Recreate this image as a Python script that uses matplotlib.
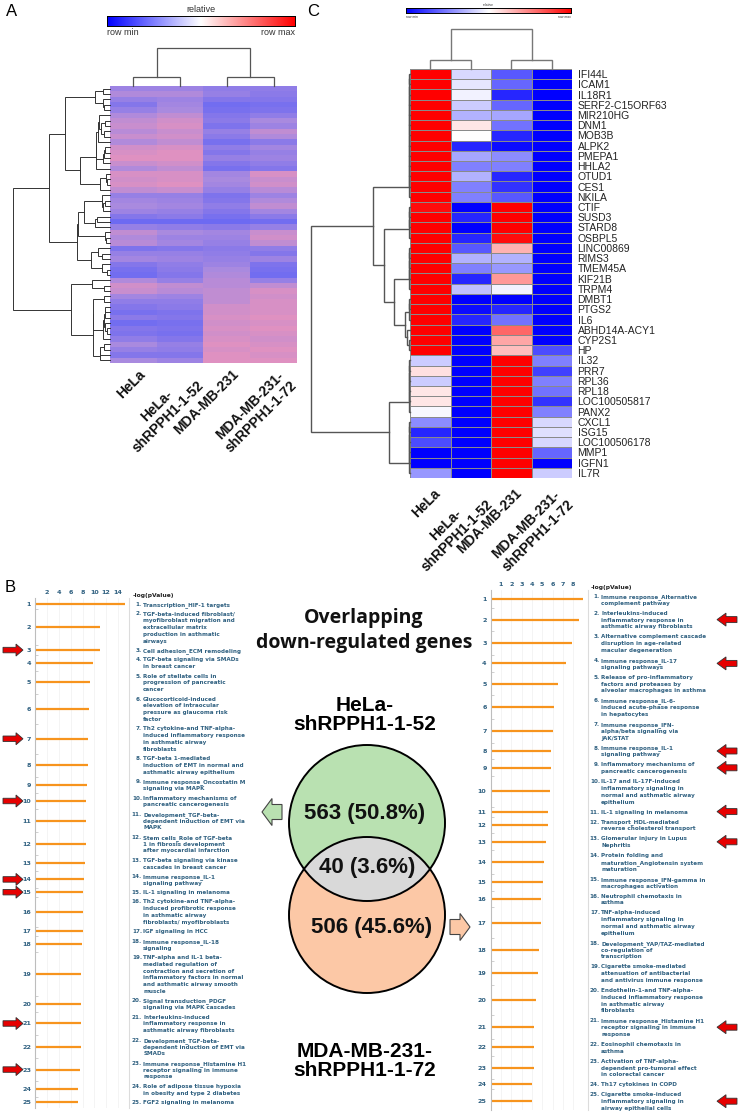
import numpy as np
import matplotlib.pyplot as plt
from matplotlib import transforms
from matplotlib.colors import LinearSegmentedColormap
from matplotlib.patches import Circle, FancyArrow

plt.rcParams['font.family'] = ['Liberation Sans', 'DejaVu Sans']

W, H = 740, 1113

# ---------------- panel A: relative expression, row-normalised ----------------
samples = ['HeLa', 'HeLa-\nshRPPH1-1-52', 'MDA-MB-231', 'MDA-MB-231-\nshRPPH1-1-72']
a_hela = [-0.2, 0.1, -0.3, -0.6, -0.3, 0.1, 0.3, 0.4, 0.2, 0.4, 0.1, 0.5, 0.6, 0.7, 0.4, 0.1, 0.6, 0.5,
          0.6, 0.3, -0.3, -0.1, 0.0, -0.2, -0.6, -1.0, -0.3, 0.3, 0.1, 0.2, -0.7, -0.3, -0.1, -0.6, -0.8,
          -0.9, 0.1, 0.5, 0.4, -0.1, -0.4, -0.6, -0.8, -0.5, -0.9, -0.6, -0.7, -0.4, 0.0, -0.3, -0.6, 0.0]
a_hela_sh = [-0.2, 0.1, -0.2, -0.1, 0.0, 0.3, 0.5, 0.6, 0.4, 0.5, 0.3, 0.6, 0.7, 0.7, 0.5, 0.3, 0.6, 0.6,
             0.7, 0.4, -0.3, -0.2, -0.1, -0.3, -0.5, -1.0, -0.4, 0.0, -0.2, -0.1, -0.6, -0.3, -0.2, -0.4,
             -0.5, -0.6, -0.3, 0.3, 0.2, -0.2, -0.4, -0.5, -0.7, -0.6, -0.8, -0.7, -0.8, -0.6, -0.3, -0.4,
             -0.6, -0.2]
a_mda = [-0.4, -0.3, -0.6, -0.9, -0.8, -0.6, -0.5, -0.7, -0.3, -0.5, -0.8, -0.4, -0.6, -0.3, -0.6, -0.8,
         -0.1, 0.0, -0.1, -0.3, -0.7, -0.6, -0.4, -0.6, -0.8, -1.0, -0.5, -0.1, -0.2, -0.3, -0.5, -0.4,
         -0.3, -0.2, 0.0, 0.1, 0.2, 0.2, 0.3, 0.3, 0.3, 0.5, 0.5, 0.6, 0.5, 0.6, 0.5, 0.6, 0.7, 0.6, 0.7, 0.7]
a_mda_sh = [-0.4, -0.5, -0.6, -0.8, -0.7, -0.4, 0.0, -0.2, 0.3, 0.1, -0.5, -0.1, -0.3, -0.2, -0.4, -0.6,
            0.6, 0.4, 0.5, 0.2, -0.2, 0.1, 0.3, -0.1, -0.5, -0.9, -0.3, 0.4, 0.5, 0.3, -0.4, -0.6, -0.2,
            -0.7, -0.8, -0.9, -0.3, 0.3, 0.6, 0.5, 0.6, 0.6, 0.6, 0.7, 0.6, 0.7, 0.6, 0.5, 0.6, 0.7, 0.6, 0.7]

# ---------------- panel C: 40 overlapping genes ----------------
c_genes = ['IFI44L', 'ICAM1', 'IL18R1', 'SERF2-C15ORF63', 'MIR210HG', 'DNM1', 'MOB3B', 'ALPK2', 'PMEPA1',
           'HHLA2', 'OTUD1', 'CES1', 'NKILA', 'CTIF', 'SUSD3', 'STARD8', 'OSBPL5', 'LINC00869', 'RIMS3',
           'TMEM45A', 'KIF21B', 'TRPM4', 'DMBT1', 'PTGS2', 'IL6', 'ABHD14A-ACY1', 'CYP2S1', 'HP', 'IL32',
           'PRR7', 'RPL36', 'RPL18', 'LOC100505817', 'PANX2', 'CXCL1', 'ISG15', 'LOC100506178', 'MMP1',
           'IGFN1', 'IL7R']
c_hela = [1, 1, 1, 1, 1, 1, 1, 1, 1, 1, 1, 1, 1, 0.95, 1, 1, 1, 1, 1, 1, 1, 1, 1, 1, 1, 1, 1, 1,
          -0.2, 0.12, -0.2, 0.1, 0.1, -0.03, -0.45, -0.85, -0.7, -1, -1, -0.4]
c_hela_sh = [-0.15, -0.1, -0.05, -0.2, -0.3, 0.1, 0.0, -0.85, -0.35, -0.5, -0.3, -0.5, -0.5, -1, -0.85,
             -1, -0.85, -0.65, -0.3, -0.5, -0.85, -0.25, -1, -0.95, -0.85, -1, -1, -1,
             -1, -1, -1, -1, -1, -1, -1, -1, -1, -1, -1, -1]
c_mda = [-0.65, -0.6, -0.85, -0.6, -0.35, -0.55, -0.85, -0.95, -0.45, -0.5, -0.85, -0.8, -0.65, 1, 1,
         1, 0.95, 0.3, -0.3, -0.4, 0.4, -0.05, -1, -0.85, -0.55, 0.6, 0.35, 0.25,
         1, 1, 1, 1, 1, 1, 1, 1, 1, 1, 1, 1]
c_mda_sh = [-1, -1, -1, -1, -1, -1, -1, -1, -1, -1, -1, -1, -1, -1, -1, -1, -1, -1, -1, -1, -1, -1,
            -1, -1, -1, -1, -1, -0.7, -0.5, -0.75, -0.5, -0.55, -0.8, -0.5, -0.15, -0.12, -0.15, -0.6,
            -1, -0.2]


def chain(idx, h=0.006):
    node = idx[0]
    for k in idx[1:]:
        node = (h, node, k)
    return node


c_tree = (1.0,
          (0.378, chain(range(0, 13)),
           (0.265, chain(range(13, 17)),
            (0.163, chain(range(17, 22)),
             (0.051, chain(range(22, 25)), (0.03, 25, (0.006, 26, 27)))))),
          (0.214, chain(range(28, 34)), chain(range(34, 40))))
col_tree = (1.0, (0.23, 0, 1), (0.23, 2, 3))

# ---------------- panel B: venn + pathway enrichment ----------------
venn_hela = 563
venn_shared = 40
venn_mda = 506
venn_total = venn_hela + venn_shared + venn_mda

left_terms = [
    'Transcription_HIF-1 targets',
    'TGF-beta-induced fibroblast/\nmyofibroblast migration and\nextracellular matrix\nproduction in asthmatic\nairways',
    'Cell adhesion_ECM remodeling',
    'TGF-beta signaling via SMADs\nin breast cancer',
    'Role of stellate cells in\nprogression of pancreatic\ncancer',
    'Glucocorticoid-induced\nelevation of intraocular\npressure as glaucoma risk\nfactor',
    'Th2 cytokine-and TNF-alpha-\ninduced inflammatory response\nin asthmatic airway\nfibroblasts',
    'TGF-beta 1-mediated\ninduction of EMT in normal and\nasthmatic airway epithelium',
    'Immune response_Oncostatin M\nsignaling via MAPK',
    'Inflammatory mechanisms of\npancreatic cancerogenesis',
    'Development_TGF-beta-\ndependent induction of EMT via\nMAPK',
    'Stem cells_Role of TGF-beta\n1 in fibrosis development\nafter myocardial infarction',
    'TGF-beta signaling via kinase\ncascades in breast cancer',
    'Immune response_IL-1\nsignaling pathway',
    'IL-1 signaling in melanoma',
    'Th2 cytokine-and TNF-alpha-\ninduced profibrotic response\nin asthmatic airway\nfibroblasts/ myofibroblasts',
    'IGF signaling in HCC',
    'Immune response_IL-18\nsignaling',
    'TNF-alpha and IL-1 beta-\nmediated regulation of\ncontraction and secretion of\ninflammatory factors in normal\n'
    'and asthmatic airway smooth\nmuscle',
    'Signal transduction_PDGF\nsignaling via MAPK cascades',
    'Interleukins-induced\ninflammatory response in\nasthmatic airway fibroblasts',
    'Development_TGF-beta-\ndependent induction of EMT via\nSMADs',
    'Immune response_Histamine H1\nreceptor signaling in immune\nresponse',
    'Role of adipose tissue hypoxia\nin obesity and type 2 diabetes',
    'FGF2 signaling in melanoma',
]
left_logp = [15.2, 10.9, 10.9, 9.7, 9.3, 9.1, 9.0, 8.9, 8.7, 8.6, 8.6, 8.5, 8.4, 8.3, 8.0, 8.0, 8.0,
             7.9, 7.8, 7.7, 7.7, 7.7, 7.5, 7.2, 7.2]
left_marked = [3, 7, 10, 14, 15, 21, 23]

right_terms = [
    'Immune response_Alternative\ncomplement pathway',
    'Interleukins-induced\ninflammatory response in\nasthmatic airway fibroblasts',
    'Alternative complement cascade\ndisruption in age-related\nmacular degeneration',
    'Immune response_IL-17\nsignaling pathways',
    'Release of pro-inflammatory\nfactors and proteases by\nalveolar macrophages in asthma',
    'Immune response_IL-6-\ninduced acute-phase response\nin hepatocytes',
    'Immune response_IFN-\nalpha/beta signaling via\nJAK/STAT',
    'Immune response_IL-1\nsignaling pathway',
    'Inflammatory mechanisms of\npancreatic cancerogenesis',
    'IL-17 and IL-17F-induced\ninflammatory signaling in\nnormal and asthmatic airway\nepithelium',
    'IL-1 signaling in melanoma',
    'Transport_HDL-mediated\nreverse cholesterol transport',
    'Glomerular injury in Lupus\nNephritis',
    'Protein folding and\nmaturation_Angiotensin system\nmaturation',
    'Immune response_IFN-gamma in\nmacrophages activation',
    'Neutrophil chemotaxis in\nasthma',
    'TNF-alpha-induced\ninflammatory signaling in\nnormal and asthmatic airway\nepithelium',
    'Development_YAP/TAZ-mediated\nco-regulation of\ntranscription',
    'Cigarette smoke-mediated\nattenuation of antibacterial\nand antivirus immune response',
    'Endothelin-1-and TNF-alpha-\ninduced inflammatory response\nin asthmatic airway\nfibroblasts',
    'Immune response_Histamine H1\nreceptor signaling in immune\nresponse',
    'Eosinophil chemotaxis in\nasthma',
    'Activation of TNF-alpha-\ndependent pro-tumoral effect\nin colorectal cancer',
    'Th17 cytokines in COPD',
    'Cigarette smoke-induced\ninflammatory signaling in\nairway epithelial cells',
]
right_logp = [9.0, 8.6, 7.9, 7.3, 6.5, 6.15, 6.0, 5.9, 5.85, 5.8, 5.6, 5.6, 5.4, 5.15, 5.05, 4.9, 4.9,
              4.7, 4.6, 4.35, 4.25, 4.2, 4.2, 4.05, 4.05]
right_marked = [2, 4, 8, 9, 11, 13, 21, 25]

# ---------------- helpers ----------------
cmap_rb = LinearSegmentedColormap.from_list('rb', ['#0000ff', '#ffffff', '#ff0000'])
cmap_a = LinearSegmentedColormap.from_list('muted', ['#6d6af2', '#a98ae0', '#f794b4'])
teal = '#2f6080'

fig = plt.figure(figsize=(W / 100, H / 100), dpi=100)


def px_axes(x0, y0, x1, y1):
    ax = fig.add_axes([x0 / W, 1 - y1 / H, (x1 - x0) / W, (y1 - y0) / H])
    ax.patch.set_alpha(0)
    return ax


ov = px_axes(0, 0, W, H)
ov.set_xlim(0, W)
ov.set_ylim(H, 0)
ov.axis('off')


def draw_tree(ax, node, side, color, lw):
    if not isinstance(node, tuple):
        return float(node), 0.0
    h, left, right = node
    p1, h1 = draw_tree(ax, left, side, color, lw)
    p2, h2 = draw_tree(ax, right, side, color, lw)
    xs, ys = [h1, h, h, h2], [p1, p1, p2, p2]
    if side == 'top':
        xs, ys = ys, xs
    ax.plot(xs, ys, color=color, lw=lw, clip_on=False, solid_joinstyle='miter')
    return (p1 + p2) / 2, h


def adjacent_linkage(rows):
    # ward-like agglomeration restricted to neighbouring rows (keeps the row order)
    cl = [(i, np.asarray(r, float), 1, 0.0) for i, r in enumerate(rows)]
    while len(cl) > 1:
        dists = [np.sqrt(2 * cl[i][2] * cl[i + 1][2] / (cl[i][2] + cl[i + 1][2]))
                 * np.linalg.norm(cl[i][1] - cl[i + 1][1]) for i in range(len(cl) - 1)]
        i = int(np.argmin(dists))
        t1, m1, n1, h1 = cl[i]
        t2, m2, n2, h2 = cl[i + 1]
        h = max(dists[i], h1, h2) + 0.02
        cl[i:i + 2] = [((h, t1, t2), (m1 * n1 + m2 * n2) / (n1 + n2), n1 + n2, h)]
    return cl[0][0]


def colorbar(x0, y0, x1, y1, fs, gap):
    ax = px_axes(x0, y0, x1, y1)
    ax.imshow(np.linspace(0, 1, 256)[None, :], cmap=cmap_rb, aspect='auto')
    ax.set_xticks([])
    ax.set_yticks([])
    for s in ax.spines.values():
        s.set_linewidth(0.7)
    ov.text((x0 + x1) / 2, y0 - gap, 'relative', ha='center', va='bottom', fontsize=fs, color='#333333')
    ov.text(x0, y1 + gap, 'row min', ha='left', va='top', fontsize=fs, color='#333333')
    ov.text(x1, y1 + gap, 'row max', ha='right', va='top', fontsize=fs, color='#333333')


def column_labels(ax, centers, dx, dy):
    tr = transforms.offset_copy(ax.get_xaxis_transform(), fig=fig, x=dx, y=dy, units='dots')
    for c, lab in zip(centers, samples):
        ax.text(c, 0, lab, transform=tr, rotation=45, rotation_mode='anchor', ha='right', va='top',
                multialignment='center', fontsize=10, fontweight='bold', color='#111111')


# ---------------- panel A ----------------
ov.text(12, 11, 'A', fontsize=12, ha='center', va='center')
colorbar(107, 16, 295, 26, 6.5, 2)
a_vals = np.column_stack([a_hela, a_hela_sh, a_mda, a_mda_sh])
n_a = len(a_vals)

hm = px_axes(110, 86, 297, 363)
hm.imshow(a_vals, cmap=cmap_a, vmin=-1, vmax=1, aspect='auto', interpolation='nearest')
hm.axis('off')
column_labels(hm, range(4), 5, -4)

rd = px_axes(13, 86, 110, 363)
a_tree = adjacent_linkage(a_vals)
draw_tree(rd, a_tree, 'left', '#333333', 0.7)
rd.set_xlim(a_tree[0], 0)
rd.set_ylim(n_a - 0.5, -0.5)
rd.axis('off')

cd = px_axes(110, 48, 297, 86)
draw_tree(cd, col_tree, 'top', '#555555', 0.9)
cd.set_xlim(-0.5, 3.5)
cd.set_ylim(0, 1)
cd.axis('off')

# ---------------- panel C ----------------
ov.text(313, 11, 'C', fontsize=12, ha='center', va='center')
colorbar(406, 8, 571, 13, 2.4, 1.5)
c_vals = np.column_stack([c_hela, c_hela_sh, c_mda, c_mda_sh])
n_c = len(c_genes)

hc = px_axes(410, 69, 572, 478)
hc.pcolormesh(c_vals, cmap=cmap_rb, vmin=-1, vmax=1, edgecolors='#8a8a8a', linewidth=0.7)
hc.set_xlim(0, 4)
hc.set_ylim(n_c, 0)
hc.yaxis.tick_right()
hc.set_yticks(np.arange(n_c) + 0.5, c_genes, fontsize=7.5, color='#222222')
hc.tick_params(axis='y', length=0, pad=4)
hc.set_xticks([])
for s in hc.spines.values():
    s.set_visible(False)
column_labels(hc, np.arange(4) + 0.5, 3, -8)

rc = px_axes(311, 69, 410, 478)
draw_tree(rc, c_tree, 'left', '#555555', 1.0)
rc.set_xlim(1.0, 0)
rc.set_ylim(n_c - 0.5, -0.5)
rc.axis('off')

cc = px_axes(410, 29, 572, 69)
draw_tree(cc, col_tree, 'top', '#777777', 1.0)
cc.set_xlim(-0.5, 3.5)
cc.set_ylim(0, 1)
cc.axis('off')

# ---------------- panel B ----------------
ov.text(10, 587, 'B', fontsize=12, ha='center', va='center')
tstyle = dict(fontsize=4.1, fontweight='bold', color=teal, family='DejaVu Sans')


def term_list(terms, x_num, first, pitch, gap):
    centers, bounds = [], []
    y = first
    for k, t in enumerate(terms, 1):
        parts = t.split('\n')
        ov.text(x_num, y + 2.0, f'{k}.', ha='right', va='baseline', **tstyle)
        for m, line in enumerate(parts):
            ov.text(x_num + 1.2, y + m * pitch + 2.0, line, ha='left', va='baseline', **tstyle)
        centers.append(y + (len(parts) - 1) * pitch / 2)
        y += len(parts) * pitch + gap
        bounds.append(y - (pitch + gap) / 2)
    return np.array(centers), bounds[:-1]


def bar_panel(x0, y0, x1, y1, unit_px, values, centers, bounds, ticks, label_xy):
    ax = px_axes(x0, y0, x1, y1)
    ax.hlines(centers, 0, values, color='#f7941d', lw=1.6)
    ax.set_xlim(0, (x1 - x0) / unit_px)
    ax.set_ylim(y1, y0)
    ax.xaxis.tick_top()
    ax.set_xticks(ticks, [str(t) for t in ticks], fontsize=4.6, fontweight='bold', color=teal,
                  family='DejaVu Sans')
    ax.set_yticks(centers, [str(k) for k in range(1, len(centers) + 1)], fontsize=4.6,
                  fontweight='bold', color=teal, family='DejaVu Sans')
    ax.set_yticks(bounds, minor=True)
    ax.tick_params(axis='x', length=0, pad=2.5)
    ax.tick_params(axis='y', which='major', length=0, pad=3)
    ax.tick_params(axis='y', which='minor', length=2, direction='in', color='#c8c8c8', width=0.6)
    ax.grid(axis='x', color='#f0f0f0', lw=0.5)
    ax.set_axisbelow(True)
    ax.spines['top'].set_visible(False)
    ax.spines['bottom'].set_visible(False)
    ax.spines['left'].set_color('#bdbdbd')
    ax.spines['right'].set_color('#dcdcdc')
    for s in ('left', 'right'):
        ax.spines[s].set_linewidth(0.8)
    ov.text(label_xy[0], label_xy[1], '-log(pValue)', ha='left', va='center', fontsize=4.3,
            fontweight='bold', color='#222222', family='DejaVu Sans')
    return ax


def red_arrow(x_tail, y, dx, width, head_w, head_l):
    ov.add_patch(FancyArrow(x_tail, y, dx, 0, width=width, head_width=head_w, head_length=head_l,
                            length_includes_head=True, fc='#e60000', ec='#333333', lw=0.6))


lc, lb = term_list(left_terms, 142, 604, 6.85, 2.48)
bar_panel(35.2, 598, 129, 1108, 5.92, left_logp, lc, lb, list(range(2, 15, 2)), (133, 595))
for k in left_marked:
    red_arrow(3, lc[k - 1], 20, 5.5, 12, 7)

rc_, rb_ = term_list(right_terms, 600, 596, 6.8, 3.2)
bar_panel(490.7, 590, 588, 1110, 10.3, right_logp, rc_, rb_, list(range(1, 9)), (591, 587))
for k in right_marked:
    red_arrow(737, rc_[k - 1], -20, 6, 13, 9)

# venn diagram
ov.text(364, 618, 'Overlapping', ha='center', va='center', fontsize=14, fontweight='bold',
        family='Open Sans', color='#111111')
ov.text(364, 643, 'down-regulated genes', ha='center', va='center', fontsize=14, fontweight='bold',
        family='Open Sans', color='#111111')
ov.text(365, 715, 'HeLa-\nshRPPH1-1-52', ha='center', va='center', fontsize=15, fontweight='bold',
        linespacing=1.05)
ov.text(365, 1061, 'MDA-MB-231-\nshRPPH1-1-72', ha='center', va='center', fontsize=15,
        fontweight='bold', linespacing=1.05)

r_v = 78
c_top = (367, 823)
c_bot = (367, 915)
ov.add_patch(Circle(c_top, r_v, fc='#b9e1b1', ec='none'))
ov.add_patch(Circle(c_bot, r_v, fc='#fcc8a6', ec='none'))
clip = Circle(c_top, r_v, transform=ov.transData)
lens = Circle(c_bot, r_v, fc='#d9d9d9', ec='none')
ov.add_patch(lens)
lens.set_clip_path(clip)
ov.add_patch(Circle(c_top, r_v, fc='none', ec='black', lw=1.4))
ov.add_patch(Circle(c_bot, r_v, fc='none', ec='black', lw=1.4))

vstyle = dict(ha='center', va='center', fontsize=16, fontweight='bold', color='#111111')
ov.text(365, 813, f'{venn_hela} ({100 * venn_hela / venn_total:.1f}%)', **vstyle)
ov.text(367, 868, f'{venn_shared} ({100 * venn_shared / venn_total:.1f}%)', **vstyle)
ov.text(372, 927, f'{venn_mda} ({100 * venn_mda / venn_total:.1f}%)', **vstyle)

ov.add_patch(FancyArrow(282, 812, -20, 0, width=15, head_width=27, head_length=10,
                        length_includes_head=True, fc='#b9e1b1', ec='#444444', lw=0.8))
ov.add_patch(FancyArrow(450, 927, 20, 0, width=15, head_width=27, head_length=10,
                        length_includes_head=True, fc='#fcc8a6', ec='#444444', lw=0.8))

fig.savefig('out.png', dpi=100)
